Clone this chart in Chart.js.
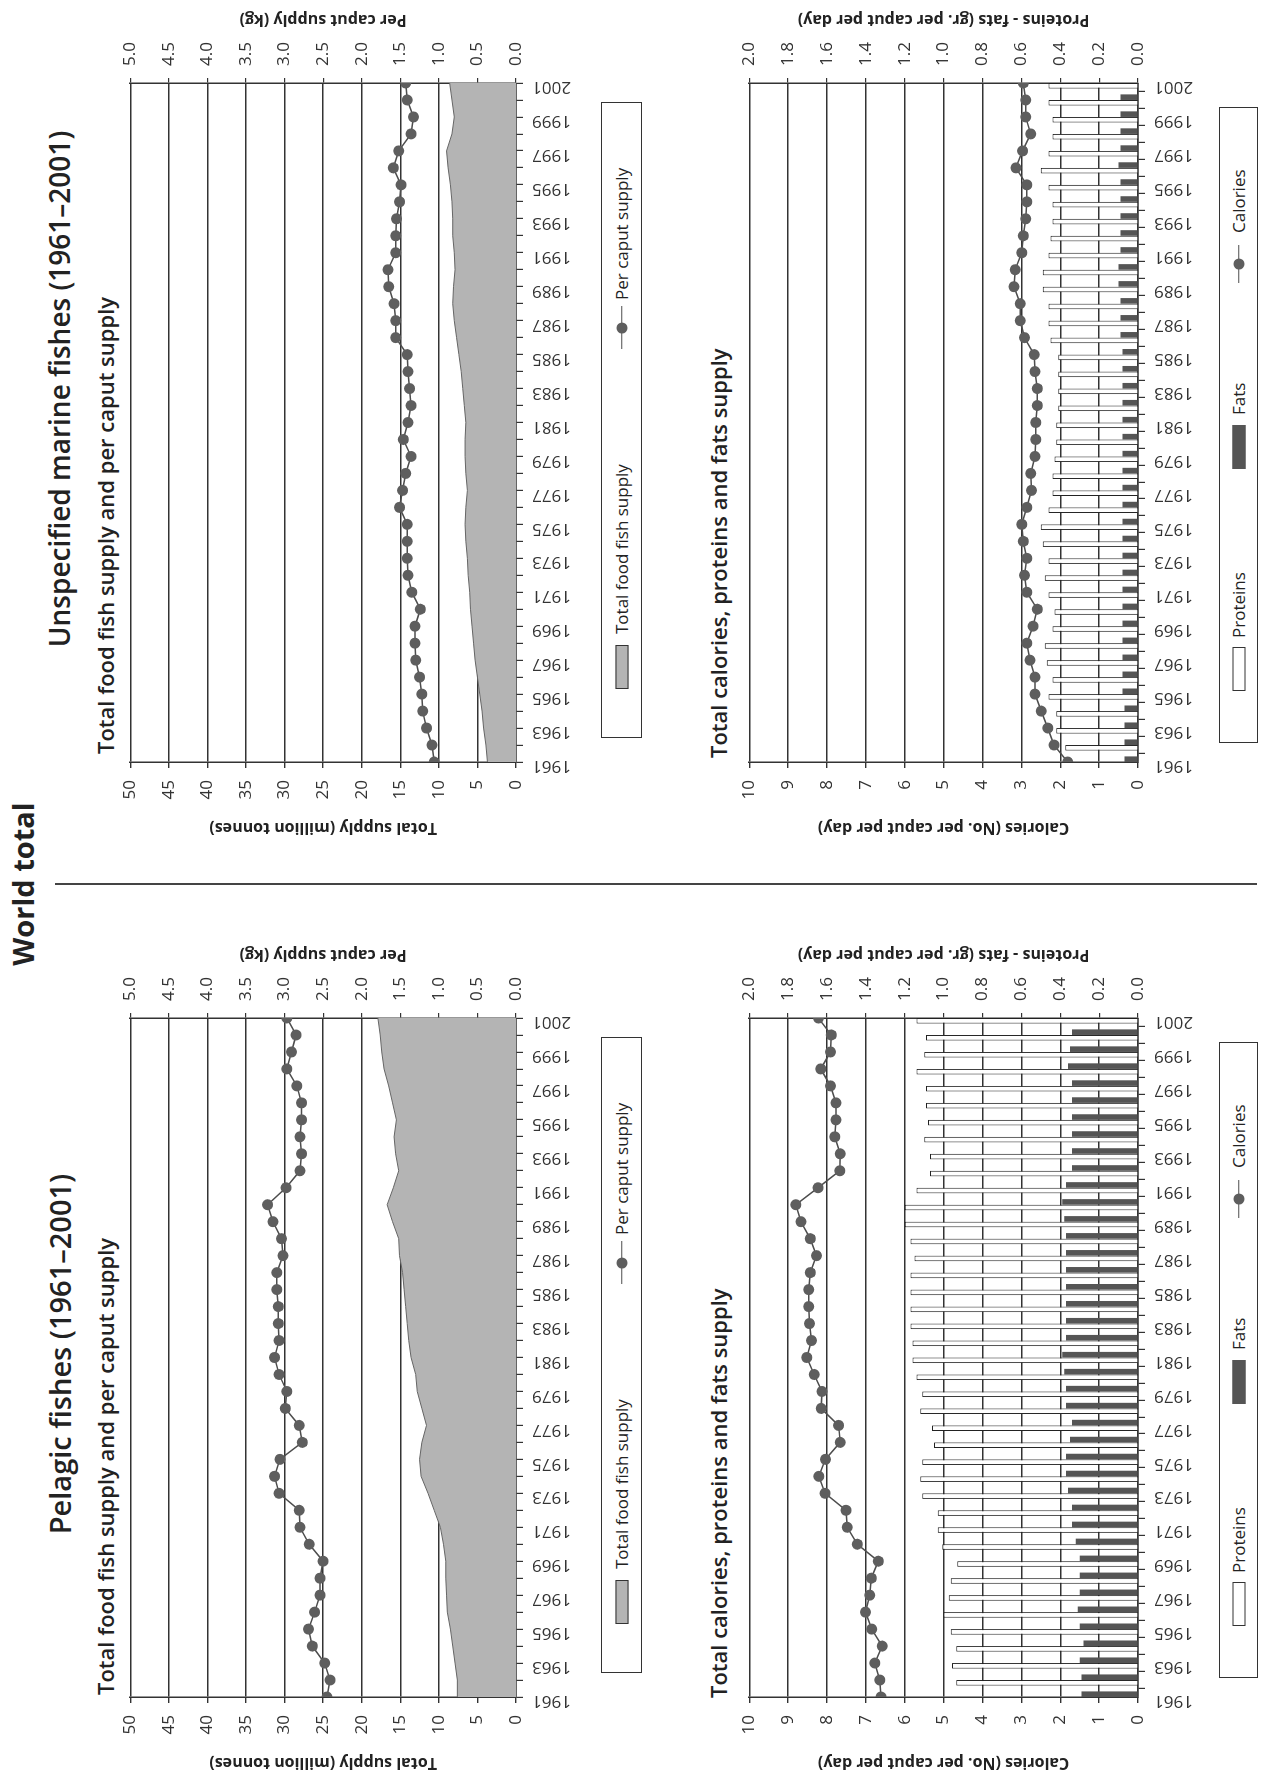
<!DOCTYPE html>
<html><head><meta charset="utf-8">
<script src="https://cdn.jsdelivr.net/npm/chart.js@4.4.1/dist/chart.umd.min.js"></script>
<style>
html,body{margin:0;padding:0;background:#fff;}
body{width:1266px;height:1775px;overflow:hidden;position:relative;}
#page{position:absolute;left:0;top:0;width:1775px;height:1266px;transform-origin:0 0;transform:translateY(1775px) rotate(-90deg);font-family:"Open Sans",sans-serif;color:#222;background:#fff;}
.t{position:absolute;white-space:nowrap;line-height:1;}
.c{transform:translate(-50%,-50%);}
.l{transform:translateY(-50%);}
canvas{position:absolute;}
.legend{position:absolute;border:1.5px solid #333;box-sizing:border-box;}
.legend span{position:absolute;top:50%;}
.sw{height:13px;transform:translateY(-50%);box-sizing:border-box;border:1px solid #333;}
.lt{font-size:17px;transform:translateY(-52%);white-space:nowrap;}
.ln{height:1.5px;background:#4d4d4d;transform:translateY(-50%);}
.dot{width:11px;height:11px;border-radius:50%;background:#5e5e5e;transform:translate(-50%,-50%);}
</style></head>
<body>
<div id="page">
  <div class="t c" style="left:891px;top:22px;font-size:29px;font-weight:700;">World total</div>
  <div style="position:absolute;left:890px;top:55px;width:1.5px;height:1202px;background:#444;"></div>

  <div class="t c" id="tP" style="left:421px;top:59px;font-size:29px;font-weight:600;"></div>
  <div class="t l" style="left:80px;top:105px;font-size:22px;font-weight:600;" id="sP1"></div>
  <div class="t l" style="left:77px;top:718px;font-size:22px;font-weight:600;" id="sP2"></div>
  <div class="t c" id="tM" style="left:1386px;top:59px;font-size:28px;font-weight:600;"></div>
  <div class="t l" style="left:1021px;top:105px;font-size:22px;font-weight:600;" id="sM1"></div>
  <div class="t l" style="left:1017px;top:718px;font-size:22px;font-weight:600;" id="sM2"></div>

  <canvas id="cP1" width="870" height="492" style="left:0px;top:108px;"></canvas>
  <canvas id="cP2" width="870" height="488" style="left:0px;top:727px;"></canvas>
  <canvas id="cM1" width="870" height="492" style="left:935px;top:108px;"></canvas>
  <canvas id="cM2" width="870" height="488" style="left:935px;top:727px;"></canvas>

  <div class="legend" id="lP1" style="left:102px;top:601px;width:636px;height:41px;"></div>
  <div class="legend" id="lP2" style="left:97px;top:1219px;width:636px;height:39px;"></div>
  <div class="legend" id="lM1" style="left:1037px;top:601px;width:636px;height:41px;"></div>
  <div class="legend" id="lM2" style="left:1032px;top:1219px;width:636px;height:39px;"></div>
</div>
<script>
// ---------------- DATA ----------------
const years = [1961,1962,1963,1964,1965,1966,1967,1968,1969,1970,1971,1972,1973,1974,1975,1976,1977,1978,1979,1980,1981,1982,1983,1984,1985,1986,1987,1988,1989,1990,1991,1992,1993,1994,1995,1996,1997,1998,1999,2000,2001];

const pageTitle = 'World total';
const pelagicTitle = 'Pelagic fishes (1961\u20132001)';
const marineTitle = 'Unspecified marine fishes (1961\u20132001)';
const supplySubtitle = 'Total food fish supply and per caput supply';
const nutritionSubtitle = 'Total calories, proteins and fats supply';

const supplyLabels = ['Total food fish supply', 'Per caput supply'];
const nutritionLabels = ['Proteins', 'Fats', 'Calories'];
const supplyAxisTitles = ['Total supply (million tonnes)', 'Per caput supply (kg)'];
const nutritionAxisTitles = ['Calories (No. per caput per day)', 'Proteins - fats (gr. per caput per day)'];

// Pelagic fishes
const pelagicTotalSupply = [7.6,7.6,7.9,8.2,8.5,8.9,9.0,9.1,9.1,9.4,9.8,10.6,11.4,12.3,12.5,12.2,11.6,12.2,12.8,13.0,13.6,13.9,14.1,14.3,14.5,14.7,15.1,15.2,16.0,16.7,15.9,15.2,15.6,15.8,15.5,16.0,16.5,17.1,17.4,17.6,17.9];
const pelagicPerCaput = [2.45,2.41,2.48,2.64,2.69,2.61,2.54,2.54,2.50,2.68,2.80,2.81,3.07,3.13,3.06,2.77,2.81,2.99,2.97,3.07,3.13,3.07,3.08,3.08,3.10,3.10,3.02,3.04,3.15,3.22,2.98,2.80,2.78,2.80,2.78,2.78,2.84,2.97,2.91,2.85,2.97];
const pelagicCalories = [6.61,6.64,6.77,6.58,6.85,7.01,6.90,6.86,6.68,7.22,7.48,7.51,8.05,8.21,8.04,7.66,7.70,8.15,8.13,8.33,8.52,8.40,8.45,8.47,8.47,8.43,8.27,8.43,8.67,8.80,8.23,7.67,7.66,7.80,7.77,7.77,7.91,8.16,7.91,7.89,8.22];
const pelagicProteins = [0.93,0.935,0.957,0.935,0.963,1.00,0.974,0.963,0.930,1.007,1.03,1.03,1.11,1.12,1.11,1.05,1.06,1.12,1.11,1.14,1.16,1.16,1.17,1.17,1.17,1.17,1.15,1.17,1.20,1.20,1.14,1.07,1.07,1.10,1.08,1.09,1.09,1.14,1.10,1.09,1.14];
const pelagicFats = [0.29,0.29,0.30,0.28,0.30,0.31,0.30,0.30,0.30,0.32,0.34,0.34,0.36,0.37,0.37,0.35,0.34,0.37,0.37,0.38,0.39,0.37,0.37,0.37,0.37,0.37,0.37,0.37,0.38,0.39,0.37,0.34,0.34,0.34,0.34,0.34,0.34,0.36,0.35,0.34,0.35];

// Unspecified marine fishes
const marineTotalSupply = [3.7,3.9,4.2,4.4,4.7,5.0,5.3,5.5,5.7,5.9,6.0,6.2,6.3,6.5,6.6,6.5,6.3,6.5,6.6,6.6,6.5,6.7,6.9,7.1,7.4,7.7,8.0,8.2,8.1,7.9,8.0,8.2,8.2,8.3,8.5,8.8,9.0,8.3,8.0,8.3,8.6];
const marinePerCaput = [1.06,1.09,1.16,1.21,1.22,1.25,1.30,1.31,1.31,1.24,1.35,1.40,1.41,1.41,1.41,1.51,1.47,1.43,1.36,1.46,1.40,1.36,1.38,1.40,1.41,1.56,1.56,1.58,1.65,1.66,1.56,1.56,1.55,1.51,1.49,1.59,1.52,1.36,1.33,1.41,1.43];
const marineCalories = [1.81,2.16,2.32,2.49,2.65,2.65,2.78,2.86,2.70,2.59,2.86,2.92,2.86,2.95,2.99,2.86,2.74,2.76,2.65,2.63,2.63,2.59,2.59,2.65,2.67,2.92,3.03,3.03,3.19,3.16,2.99,2.95,2.89,2.86,2.86,3.14,2.97,2.76,2.89,2.89,2.95];
const marineProteins = [0.32,0.374,0.42,0.42,0.46,0.44,0.47,0.48,0.44,0.43,0.46,0.48,0.46,0.49,0.50,0.46,0.44,0.44,0.43,0.42,0.42,0.41,0.41,0.41,0.41,0.45,0.46,0.46,0.49,0.49,0.46,0.45,0.44,0.44,0.46,0.50,0.46,0.44,0.44,0.46,0.46];
const marineFats = [0.07,0.07,0.07,0.07,0.08,0.08,0.08,0.08,0.08,0.08,0.08,0.08,0.08,0.08,0.08,0.08,0.08,0.08,0.08,0.08,0.08,0.08,0.08,0.08,0.08,0.09,0.09,0.09,0.10,0.10,0.09,0.09,0.09,0.09,0.09,0.10,0.09,0.09,0.09,0.09,0.09];

// ---------------- RENDER ----------------
Chart.defaults.font.family = '"Open Sans", sans-serif';
Chart.defaults.color = '#333';

const INK = '#333';
const AREA = '#b4b4b4';
const DOT = '#5e5e5e';
const FAT = '#555555';

document.getElementById('tP').textContent = pelagicTitle;
document.getElementById('tM').textContent = marineTitle;
['sP1','sM1'].forEach(id => document.getElementById(id).textContent = supplySubtitle);
['sP2','sM2'].forEach(id => document.getElementById(id).textContent = nutritionSubtitle);

const rightTitle = {
  id: 'rightTitle',
  afterDraw(chart, args, opts) {
    const s = chart.scales.y1;
    if (!s || !opts.text) return;
    const ctx = chart.ctx;
    ctx.save();
    ctx.font = 'bold 16px "Open Sans", sans-serif';
    ctx.fillStyle = '#222';
    ctx.textAlign = 'center';
    ctx.textBaseline = 'middle';
    ctx.translate(s.left + opts.offset, (s.top + s.bottom) / 2);
    ctx.rotate(-Math.PI / 2);
    ctx.fillText(opts.text, 0, 0);
    ctx.restore();
  }
};

function pts(arr) { return years.map((y, i) => ({x: y, y: arr[i]})); }

function baseScales(xHeight, leftMax, leftStep, leftTitle, rightMax, rightStep) {
  return {
    x: {
      type: 'linear', min: years[0], max: years[years.length - 1], offset: false,
      ticks: { stepSize: 1, autoSkip: false, minRotation: 90, maxRotation: 90, padding: 9, labelOffset: -4,
               font: {size: 17}, color: '#333',
               callback: v => ((v - years[0]) % 2 === 0 ? String(v) : '') },
      grid: { drawOnChartArea: false, drawTicks: true, tickLength: 7, color: INK, lineWidth: 1.2 },
      border: { display: true, color: INK, width: 1.5 },
      afterFit: s => { s.height = xHeight; }
    },
    y: {
      position: 'left', min: 0, max: leftMax,
      ticks: { stepSize: leftStep, padding: 12, font: {size: 17}, color: '#333' },
      grid: { color: INK, lineWidth: 1.4, tickLength: 6 },
      border: { display: true, color: INK, width: 1.5 },
      title: { display: true, text: leftTitle, font: {size: 16, weight: 'bold'}, color: '#222', padding: {top: 3, bottom: 0} },
      afterFit: s => { s.width = 78; }
    },
    y1: {
      position: 'right', min: 0, max: rightMax,
      ticks: { stepSize: rightStep, padding: 12, font: {size: 17}, color: '#333', callback: v => v.toFixed(1) },
      grid: { drawOnChartArea: false, tickLength: 5, color: INK, lineWidth: 1.2 },
      border: { display: true, color: INK, width: 1.5 },
      afterFit: s => { s.width = 113; }
    }
  };
}

function supplyChart(id, total, perCaput) {
  return new Chart(document.getElementById(id), {
    type: 'line',
    data: { datasets: [
      { label: supplyLabels[1], data: pts(perCaput), yAxisID: 'y1', order: 0,
        borderColor: '#4d4d4d', borderWidth: 1.5, tension: 0,
        pointRadius: 5.5, pointBackgroundColor: DOT, pointBorderColor: DOT, pointBorderWidth: 0 },
      { label: supplyLabels[0], data: pts(total), yAxisID: 'y', order: 1,
        fill: 'origin', backgroundColor: AREA, borderColor: '#666', borderWidth: 1, pointRadius: 0, tension: 0 }
    ]},
    options: {
      responsive: false, animation: false, devicePixelRatio: 1,
      layout: { padding: {top: 20, left: 0, right: 0, bottom: 0} },
      plugins: { legend: {display: false}, tooltip: {enabled: false},
                 rightTitle: { text: supplyAxisTitles[1], offset: 63 } },
      scales: baseScales(84, 50, 5, supplyAxisTitles[0], 5, 0.5)
    },
    plugins: [rightTitle]
  });
}

function nutritionChart(id, cal, prot, fat) {
  return new Chart(document.getElementById(id), {
    type: 'bar',
    data: { datasets: [
      { type: 'line', label: nutritionLabels[2], data: pts(cal), yAxisID: 'y', order: 0,
        borderColor: '#4d4d4d', borderWidth: 1.5, tension: 0,
        pointRadius: 5.5, pointBackgroundColor: DOT, pointBorderColor: DOT, pointBorderWidth: 0 },
      { type: 'bar', label: nutritionLabels[0], data: pts(prot), yAxisID: 'y1', order: 1,
        backgroundColor: '#ffffff', borderColor: '#222', borderWidth: 1, borderSkipped: 'start',
        categoryPercentage: 0.66, barPercentage: 1.0 },
      { type: 'bar', label: nutritionLabels[1], data: pts(fat), yAxisID: 'y1', order: 2,
        backgroundColor: FAT, borderColor: FAT, borderWidth: 0,
        categoryPercentage: 0.66, barPercentage: 1.0 }
    ]},
    options: {
      responsive: false, animation: false, devicePixelRatio: 1,
      layout: { padding: {top: 20, left: 0, right: 0, bottom: 0} },
      plugins: { legend: {display: false}, tooltip: {enabled: false},
                 rightTitle: { text: nutritionAxisTitles[1], offset: 63 } },
      scales: baseScales(77, 10, 1, nutritionAxisTitles[0], 2, 0.2)
    },
    plugins: [rightTitle]
  });
}

supplyChart('cP1', pelagicTotalSupply, pelagicPerCaput);
nutritionChart('cP2', pelagicCalories, pelagicProteins, pelagicFats);
supplyChart('cM1', marineTotalSupply, marinePerCaput);
nutritionChart('cM2', marineCalories, marineProteins, marineFats);

// ---------------- LEGENDS (HTML, from series labels) ----------------
function el(parent, cls, style, text) {
  const s = document.createElement('span');
  s.className = cls; s.setAttribute('style', style);
  if (text) s.textContent = text;
  parent.appendChild(s);
}
function supplyLegend(id) {
  const box = document.getElementById(id);
  el(box, 'sw', 'left:48px;width:44px;background:' + AREA + ';');
  el(box, 'lt', 'left:103px;', supplyLabels[0]);
  el(box, 'ln', 'left:388px;width:43px;');
  el(box, 'dot', 'left:409px;');
  el(box, 'lt', 'left:437px;', supplyLabels[1]);
}
function nutritionLegend(id) {
  const box = document.getElementById(id);
  el(box, 'sw', 'left:51px;width:44px;background:#fff;');
  el(box, 'lt', 'left:104px;', nutritionLabels[0]);
  el(box, 'sw', 'left:273px;width:44px;background:' + FAT + ';border-color:' + FAT + ';');
  el(box, 'lt', 'left:327px;', nutritionLabels[1]);
  el(box, 'ln', 'left:459px;width:38px;');
  el(box, 'dot', 'left:478px;');
  el(box, 'lt', 'left:509px;', nutritionLabels[2]);
}
supplyLegend('lP1'); supplyLegend('lM1');
nutritionLegend('lP2'); nutritionLegend('lM2');
</script>
</body></html>
